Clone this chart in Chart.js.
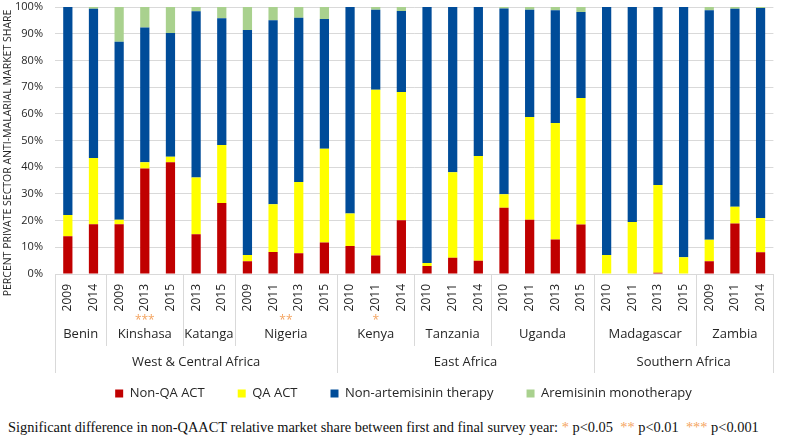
<!DOCTYPE html>
<html lang="en">
<head>
  <meta charset="UTF-8" />
  <title>Private sector anti-malarial market share</title>
  <script src="https://cdn.jsdelivr.net/npm/chart.js"></script>
  <style>
    body {
      margin: 0;
      background: #fff;
      width: 785px;
      height: 440px;
      position: relative;
      overflow: hidden;
    }
    #footnote {
      position: absolute;
      left: 8px;
      top: 419px;
      font-family: "Liberation Serif", "Times New Roman", serif;
      font-size: 14.4px;
      color: #111;
      white-space: pre;
    }
    #footnote .star { color: #F4A460; }
  </style>
</head>
<body>

  <canvas id="share-chart" width="785" height="410"></canvas>
  <div id="footnote">Significant difference in non-QAACT relative market share between first and final survey year: <span class="star">*</span> p&lt;0.05  <span class="star">**</span> p&lt;0.01  <span class="star">***</span> p&lt;0.001</div>

  <script>
    // survey years, one per bar
    const years = ['2009', '2014', '2009', '2013', '2015', '2013', '2015', '2009', '2011', '2013', '2015',
                   '2010', '2011', '2014', '2010', '2011', '2014', '2010', '2011', '2013', '2015',
                   '2010', '2011', '2013', '2015', '2009', '2011', '2014'];

    // grouping below the axis
    const countries = ['Benin', 'Kinshasa', 'Katanga', 'Nigeria', 'Kenya', 'Tanzania', 'Uganda', 'Madagascar', 'Zambia'];
    const countrySizes = [2, 3, 2, 4, 3, 3, 4, 4, 3];
    const countryStars = ['', '***', '', '**', '*', '', '', '', ''];
    const regions = ['West & Central Africa', 'East Africa', 'Southern Africa'];
    const regionSizes = [11, 10, 7];

    // market share, percent
    const nonQaAct = [14.1, 18.6, 18.6, 39.5, 41.9, 14.9, 26.6, 4.8, 8.2, 7.8, 11.8,
                      10.5, 6.9, 20.1, 3.0, 6.1, 5.0, 24.8, 20.3, 12.9, 18.5,
                      0, 0, 0.5, 0, 4.8, 18.9, 8.1];
    const qaAct = [8.0, 24.8, 1.7, 2.4, 2.0, 21.2, 21.7, 2.3, 17.9, 26.7, 35.1,
                   12.2, 62.1, 48.1, 1.1, 32.0, 39.2, 5.1, 38.5, 43.7, 47.4,
                   7.1, 19.5, 32.8, 6.3, 8.0, 6.3, 12.9];
    const nonArtemisinin = [77.9, 55.9, 66.7, 50.4, 46.4, 62.3, 47.5, 84.3, 68.9, 61.5, 48.6,
                            77.3, 30.0, 30.3, 95.9, 61.9, 55.8, 69.5, 40.2, 42.2, 32.2,
                            92.9, 80.5, 66.7, 93.7, 86.0, 74.1, 78.6];
    const monotherapy = [0, 0.7, 13.0, 7.7, 9.7, 1.6, 4.2, 8.6, 5.0, 4.0, 4.5,
                         0, 1.0, 1.5, 0, 0, 0, 0.6, 1.0, 1.2, 1.9,
                         0, 0, 0, 0, 1.2, 0.7, 0.4];

    const yTitle = 'PERCENT PRIVATE SECTOR ANTI-MALARIAL MARKET SHARE';

    const FONT = '"Open Sans", "Noto Sans", sans-serif';
    const TEXT = '#262626';
    const LINE = '#d9d9d9';

    // draws y tick labels, country and region rows plus separators under the
    // year labels, and the rotated y title (it sits a bit below centre)
    const groupAxis = {
      id: 'groupAxis',
      afterLayout(chart) {
        // legend in the original is centred on the plot, not the canvas
        chart.legend.left += 12;
        chart.legend.right += 12;
      },
      afterDraw(chart) {
        const ctx = chart.ctx;
        const x = chart.scales.x;
        const y = chart.scales.y;
        const base = chart.chartArea.bottom;
        const half = (x.getPixelForValue(1) - x.getPixelForValue(0)) / 2;
        const edge = i => x.getPixelForValue(i) - half;

        ctx.save();
        ctx.textBaseline = 'middle';

        // y title
        ctx.save();
        ctx.translate(8, 153);
        ctx.rotate(-Math.PI / 2);
        ctx.textAlign = 'center';
        ctx.fillStyle = TEXT;
        ctx.font = '10.5px ' + FONT;
        ctx.fillText(yTitle, 0, 0);
        ctx.restore();

        // y tick labels (the scale's own labels get clipped to its box)
        ctx.textAlign = 'right';
        ctx.fillStyle = TEXT;
        ctx.font = '11px ' + FONT;
        y.ticks.forEach(t => {
          ctx.fillText(t.value + '%', Math.round(chart.chartArea.left) - 12, y.getPixelForValue(t.value));
        });

        ctx.strokeStyle = LINE;
        ctx.lineWidth = 1;
        ctx.textAlign = 'center';

        // countries
        let start = 0;
        countries.forEach((name, k) => {
          const end = start + countrySizes[k];
          const mid = (edge(start) + edge(end)) / 2;
          ctx.fillStyle = TEXT;
          ctx.font = '13px ' + FONT;
          ctx.fillText(name, mid, 334);
          if (countryStars[k]) {
            ctx.fillStyle = '#F4A460';
            ctx.font = '12px ' + FONT;
            ctx.fillText(countryStars[k], mid, 321);
          }
          if (start > 0) {
            const px = Math.round(edge(start)) + 0.5;
            ctx.beginPath();
            ctx.moveTo(px, base);
            ctx.lineTo(px, 346);
            ctx.stroke();
          }
          start = end;
        });

        // regions
        start = 0;
        regions.forEach((name, k) => {
          const end = start + regionSizes[k];
          const mid = (edge(start) + edge(end)) / 2;
          ctx.fillStyle = TEXT;
          ctx.font = '13px ' + FONT;
          ctx.fillText(name, mid, 362);
          [start, end].forEach(i => {
            const px = Math.round(edge(i)) + 0.5;
            ctx.beginPath();
            ctx.moveTo(px, base);
            ctx.lineTo(px, 373);
            ctx.stroke();
          });
          start = end;
        });
        ctx.restore();
      }
    };

    const ctx = document.getElementById('share-chart').getContext('2d');

    new Chart(ctx, {
      type: 'bar',
      data: {
        labels: years,
        datasets: [
          { label: 'Non-QA ACT', data: nonQaAct, backgroundColor: '#C00000' },
          { label: 'QA ACT', data: qaAct, backgroundColor: '#FFFF00' },
          { label: 'Non-artemisinin therapy', data: nonArtemisinin, backgroundColor: '#004C99' },
          { label: 'Aremisinin monotherapy', data: monotherapy, backgroundColor: '#A9D18E' }
        ]
      },
      options: {
        responsive: false,
        animation: false,
        datasets: {
          bar: { barPercentage: 0.36, categoryPercentage: 1.0 }
        },
        layout: { padding: { top: 7, right: 2, left: 0, bottom: 0 } },
        scales: {
          x: {
            stacked: true,
            grid: { display: false, drawTicks: false },
            border: { display: false },
            ticks: {
              autoSkip: false,
              maxRotation: 90,
              minRotation: 90,
              padding: 10,
              color: TEXT,
              font: { family: FONT, size: 12 }
            },
            afterFit(scale) { scale.height = 80; }
          },
          y: {
            stacked: true,
            min: 0,
            max: 100,
            grid: { color: LINE, drawTicks: false },
            border: { display: false },
            ticks: { stepSize: 10, display: false },
            afterFit(scale) { scale.width = 55; }
          }
        },
        plugins: {
          legend: {
            position: 'bottom',
            labels: {
              boxWidth: 8,
              boxHeight: 8,
              padding: 33,
              color: TEXT,
              font: { family: FONT, size: 13 }
            }
          },
          tooltip: { enabled: false }
        }
      },
      plugins: [groupAxis]
    });
  </script>

</body>
</html>
